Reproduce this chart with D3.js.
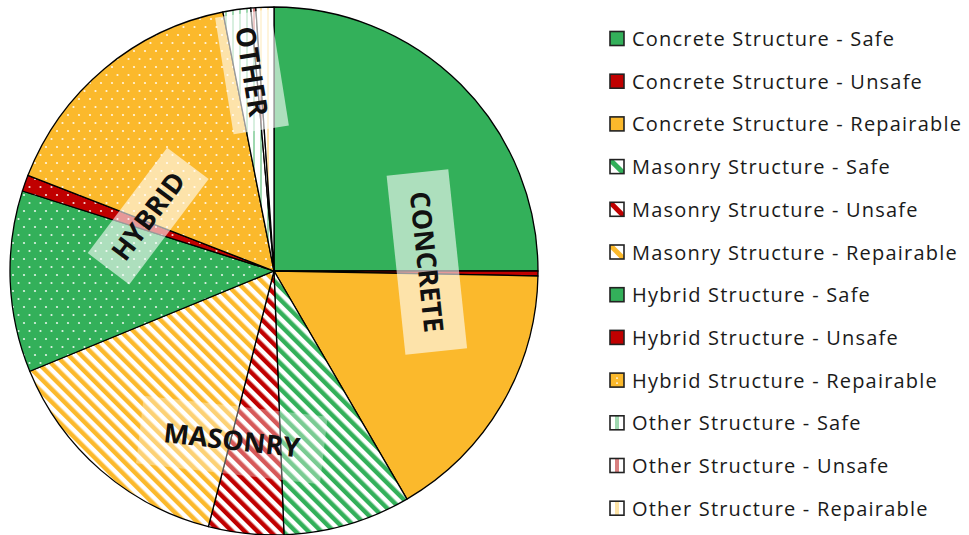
<!DOCTYPE html>
<html>
<head>
<meta charset="utf-8">
<script src="https://cdn.jsdelivr.net/npm/d3@7"></script>
<style>
  html, body { margin: 0; padding: 0; background: #fff; }
  svg { display: block; }
</style>
</head>
<body>
<div id="chart"></div>
<script>
// structure types and their condition, in the order Excel draws them (clockwise from 12 o'clock)
const structures = ['Concrete', 'Masonry', 'Hybrid', 'Other'];
const conditions = ['Safe', 'Unsafe', 'Repairable'];
// share of buildings (%) for each structure/condition pair
const shares = [
    25.0, 0.3, 16.3,   // Concrete
    7.8, 4.6, 14.8,    // Masonry
    11.1, 1.0, 16.0,   // Hybrid
    1.7, 0.3, 1.1      // Other
];
const groupLabels = ['CONCRETE', 'MASONRY', 'HYBRID', 'OTHER'];

const width = 969, height = 535;
const cx = 274, cy = 271, R = 264;

const condColor = { Safe: '#33B05A', Unsafe: '#C00000', Repairable: '#FBB92C' };
const otherColor = { Safe: '#9fd8b0', Unsafe: '#d98080', Repairable: '#fde3a6' };

const rows = [];
structures.forEach((s, i) => {
    conditions.forEach((c, j) => {
        rows.push({ structure: s, condition: c, value: shares[i * 3 + j] });
    });
});

const svg = d3.select('#chart').append('svg')
    .attr('width', width)
    .attr('height', height);

const defs = svg.append('defs');

// fill patterns per structure type
conditions.forEach(c => {
    // masonry: wide downward diagonal stripes
    const m = defs.append('pattern')
        .attr('id', 'mas-' + c)
        .attr('patternUnits', 'userSpaceOnUse')
        .attr('width', 9).attr('height', 9)
        .attr('patternTransform', 'rotate(-45)');
    m.append('rect').attr('width', 9).attr('height', 9).attr('fill', '#fff');
    m.append('rect').attr('width', 4.5).attr('height', 9).attr('fill', condColor[c]);

    // hybrid: solid with small white dots
    const h = defs.append('pattern')
        .attr('id', 'hyb-' + c)
        .attr('patternUnits', 'userSpaceOnUse')
        .attr('width', 11).attr('height', 16);
    h.append('rect').attr('width', 11).attr('height', 16).attr('fill', condColor[c]);
    h.append('circle').attr('cx', 3).attr('cy', 4).attr('r', 1.1).attr('fill', '#fff').attr('opacity', 0.85);
    h.append('circle').attr('cx', 8.5).attr('cy', 12).attr('r', 1.1).attr('fill', '#fff').attr('opacity', 0.85);

    // other: light vertical stripes
    const o = defs.append('pattern')
        .attr('id', 'oth-' + c)
        .attr('patternUnits', 'userSpaceOnUse')
        .attr('width', 7).attr('height', 7);
    o.append('rect').attr('width', 7).attr('height', 7).attr('fill', '#fff');
    o.append('rect').attr('width', 2).attr('height', 7).attr('fill', otherColor[c]);
});

function fillFor(d) {
    if (d.structure === 'Concrete') return condColor[d.condition];
    if (d.structure === 'Masonry') return 'url(#mas-' + d.condition + ')';
    if (d.structure === 'Hybrid') return 'url(#hyb-' + d.condition + ')';
    return 'url(#oth-' + d.condition + ')';
}

const pie = d3.pie().value(d => d.value).sort(null);
const arc = d3.arc().innerRadius(0).outerRadius(R);
const arcs = pie(rows);

const g = svg.append('g').attr('transform', `translate(${cx},${cy})`);

g.selectAll('path.slice')
    .data(arcs)
    .join('path')
    .attr('class', 'slice')
    .attr('d', arc)
    .attr('fill', d => fillFor(d.data))
    .attr('stroke', '#000')
    .attr('stroke-width', 1.3)
    .attr('stroke-linejoin', 'round');

// group labels on translucent boxes
// placement: angle (deg, clockwise from top), radius fraction, text rotation, box size
const labelLayout = [
    { ang: 86.6, r: 0.58, rot: 84, bw: 180, bh: 62, op: 0.6 },
    { ang: 194, r: 0.66, rot: 6.5, bw: 185, bh: 68, op: 0.35 },
    { ang: 293.6, r: 0.52, rot: -53, bw: 132, bh: 52, op: 0.6 },
    { ang: 353.7, r: 0.76, rot: 81, bw: 118, bh: 56, op: 0.6 }
];

groupLabels.forEach((txt, i) => {
    const L = labelLayout[i];
    const a = L.ang * Math.PI / 180;
    const x = Math.sin(a) * R * L.r;
    const y = -Math.cos(a) * R * L.r;
    const lg = g.append('g').attr('transform', `translate(${x},${y}) rotate(${L.rot})`);
    lg.append('rect')
        .attr('x', -L.bw / 2).attr('y', -L.bh / 2)
        .attr('width', L.bw).attr('height', L.bh)
        .attr('fill', '#fff').attr('opacity', L.op);
    lg.append('text')
        .attr('text-anchor', 'middle')
        .attr('dy', '0.36em')
        .attr('font-family', '"Open Sans", Lato, sans-serif')
        .attr('font-weight', 'bold')
        .attr('font-size', 27)
        .attr('fill', '#111')
        .text(txt);
});

// legend
const legend = svg.append('g').attr('transform', 'translate(610,0)');
const step = 42.7;
rows.forEach((d, i) => {
    const y = 46 + i * step;
    const item = legend.append('g').attr('transform', `translate(0,${y})`);
    const s = 14;
    const box = item.append('g').attr('transform', `translate(0,${-s - 0.5})`);
    const clipId = 'lc' + i;
    box.append('clipPath').attr('id', clipId)
        .append('rect').attr('width', s).attr('height', s);
    if (d.structure === 'Concrete' || d.structure === 'Hybrid') {
        box.append('rect').attr('width', s).attr('height', s).attr('fill', condColor[d.condition]);
        if (d.structure === 'Hybrid' && d.condition === 'Repairable') {
            box.append('circle').attr('cx', 7).attr('cy', 5).attr('r', 0.9).attr('fill', '#fff');
            box.append('circle').attr('cx', 7).attr('cy', 10).attr('r', 0.9).attr('fill', '#fff');
        }
    } else if (d.structure === 'Masonry') {
        box.append('rect').attr('width', s).attr('height', s).attr('fill', '#fff');
        box.append('line')
            .attr('x1', 0).attr('y1', 0).attr('x2', s).attr('y2', s)
            .attr('stroke', condColor[d.condition]).attr('stroke-width', 5)
            .attr('clip-path', `url(#${clipId})`);
    } else {
        box.append('rect').attr('width', s).attr('height', s).attr('fill', '#fff');
        box.append('rect').attr('x', 5).attr('width', 4).attr('height', s).attr('fill', otherColor[d.condition]);
    }
    box.append('rect').attr('width', s).attr('height', s)
        .attr('fill', 'none').attr('stroke', '#222').attr('stroke-width', 1.6);

    item.append('text')
        .attr('x', 22)
        .attr('y', 0)
        .attr('font-family', '"Open Sans", Lato, sans-serif')
        .attr('font-size', 20)
        .attr('letter-spacing', '1.2px')
        .attr('fill', '#1a1a1a')
        .text(`${d.structure} Structure - ${d.condition}`);
});
</script>
</body>
</html>
